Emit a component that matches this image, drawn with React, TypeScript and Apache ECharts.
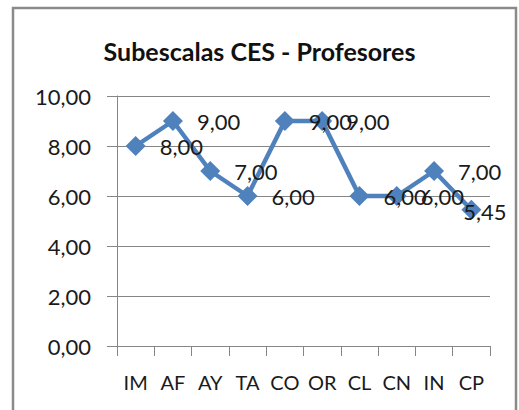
import React, { useEffect, useRef } from "react";
import * as echarts from "echarts";

const categories = ["IM", "AF", "AY", "TA", "CO", "OR", "CL", "CN", "IN", "CP"];
const values = [8, 9, 7, 6, 9, 9, 6, 6, 7, 5.45];
const yTicks = [0, 2, 4, 6, 8, 10];
const title = "Subescalas CES - Profesores";

const fmt = (v: number) => v.toFixed(2).replace(".", ",");

export default function App() {
  const ref = useRef<HTMLDivElement>(null);
  useEffect(() => {
    if (!ref.current) return;
    const chart = echarts.init(ref.current, undefined, { renderer: "svg" });
    const font = "Lato, 'Open Sans', sans-serif";
    const last = values.length - 1;
    chart.setOption({
      animation: false,
      backgroundColor: "#fff",
      title: {
        text: title,
        left: "center",
        top: 33,
        textStyle: { fontFamily: font, fontSize: 25, fontWeight: "bold", color: "#111" },
      },
      graphic: [
        {
          type: "rect",
          shape: { x: 13, y: 8, width: 503, height: 430 },
          style: { fill: "none", stroke: "#8a8a8a", lineWidth: 2.5 },
          silent: true,
        },
      ],
      grid: { left: 117, right: 29, top: 96, bottom: 64 },
      xAxis: {
        type: "category",
        data: categories,
        boundaryGap: true,
        axisLine: { lineStyle: { color: "#868686", width: 1 } },
        axisTick: { show: true, length: 10, inside: false, lineStyle: { color: "#868686" } },
        axisLabel: { fontFamily: font, fontSize: 20, color: "#1a1a1a", margin: 26, interval: 0 },
      },
      yAxis: {
        type: "value",
        min: yTicks[0],
        max: yTicks[yTicks.length - 1],
        interval: 2,
        axisLine: { show: true, lineStyle: { color: "#868686", width: 1 } },
        axisTick: { show: true, length: 10, lineStyle: { color: "#868686" } },
        splitLine: { lineStyle: { color: "#868686", width: 1 } },
        axisLabel: {
          fontFamily: font,
          fontSize: 22,
          color: "#1a1a1a",
          margin: 26,
          formatter: (v: number) => fmt(v),
        },
      },
      series: [
        {
          type: "line",
          data: values.map((v, i) =>
            i === last
              ? { value: v, label: { distance: -18, offset: [0, 2] } }
              : { value: v }
          ),
          symbol: "diamond",
          symbolSize: 20,
          lineStyle: { color: "#4F81BD", width: 4.5 },
          itemStyle: { color: "#4F81BD" },
          label: {
            show: true,
            position: "right",
            distance: 14,
            fontFamily: font,
            fontSize: 22,
            color: "#1a1a1a",
            formatter: (p: any) => fmt(p.value),
          },
        },
      ],
    });
    return () => chart.dispose();
  }, []);
  return (
    <div
      ref={ref}
      style={{ position: "fixed", left: 0, top: 0, width: 519, height: 410 }}
    />
  );
}
